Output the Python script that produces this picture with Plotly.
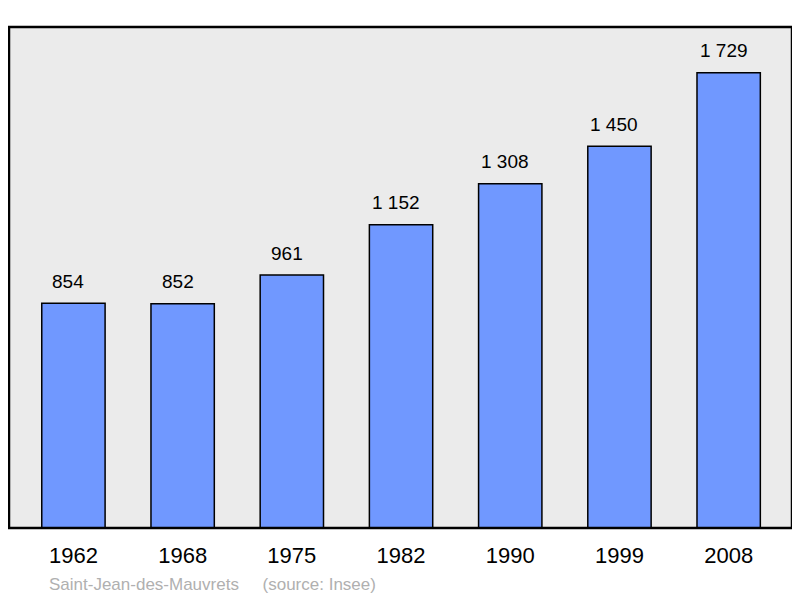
import plotly.graph_objects as go

years = ["1962", "1968", "1975", "1982", "1990", "1999", "2008"]
population = [854, 852, 961, 1152, 1308, 1450, 1729]
labels = ["854", "852", "961", "1 152", "1 308", "1 450", "1 729"]

FONT = "Liberation Sans, Arial, sans-serif"

fig = go.Figure()
fig.add_trace(go.Bar(
    x=years, y=population,
    marker=dict(color="#7098ff", line=dict(color="#000000", width=1.5)),
    width=0.58,
    hoverinfo="skip",
))

for i, (v, t) in enumerate(zip(population, labels)):
    fig.add_annotation(x=i, y=v, text=t, showarrow=False, yanchor="middle",
                       yshift=22, xshift=-5,
                       font=dict(size=19, color="#000000", family=FONT))

fig.add_shape(type="rect", xref="paper", yref="paper", x0=0, y0=0, x1=1, y1=1,
              line=dict(color="#000000", width=2.5), layer="above")

fig.add_annotation(xref="paper", yref="paper", x=0.0485, y=-0.112, xanchor="left",
                   yanchor="middle", showarrow=False,
                   text="Saint-Jean-des-Mauvrets&nbsp;&nbsp;&nbsp;&nbsp;&nbsp;(source: Insee)",
                   font=dict(size=17, color="#b0b0b0", family=FONT))

fig.update_layout(
    width=792, height=590,
    margin=dict(l=1, r=8, t=19, b=70),
    paper_bgcolor="#ffffff",
    plot_bgcolor="#ebebeb",
    showlegend=False,
    font=dict(family=FONT),
    xaxis=dict(type="category", range=[-0.59, 6.58], showgrid=False,
               ticks="", tickfont=dict(size=22, color="#000000"), ticklabelstandoff=12),
    yaxis=dict(range=[0, 1903], visible=False, showgrid=False),
)

fig.write_html("out.html")
